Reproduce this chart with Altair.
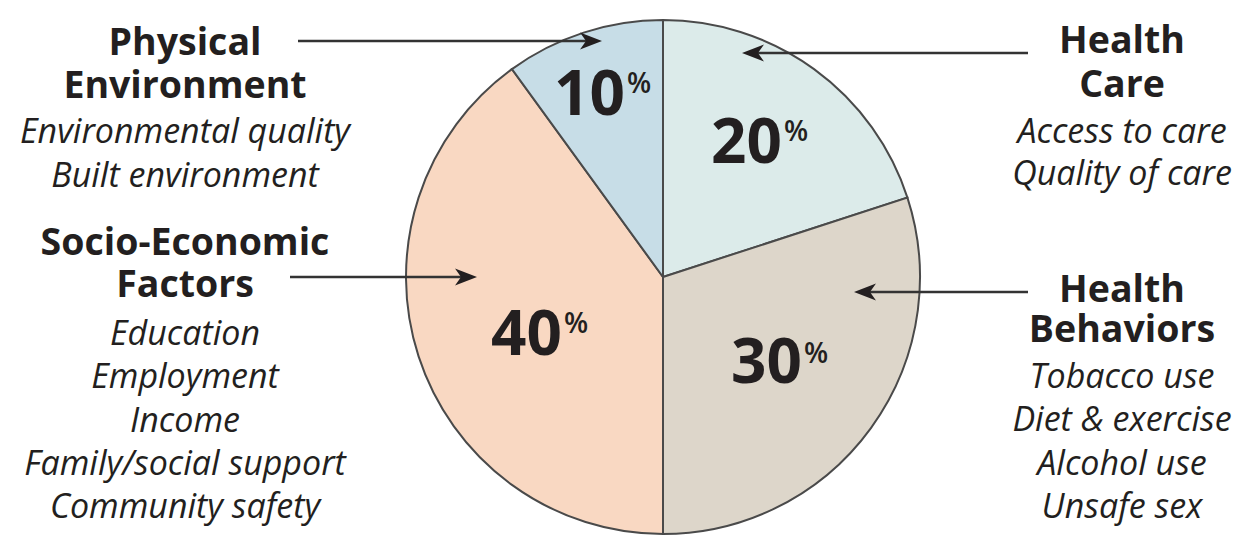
import altair as alt
import pandas as pd

# ---- data -------------------------------------------------------------
factors = ["Health Care", "Health Behaviors", "Socio-Economic Factors", "Physical Environment"]
shares = [20, 30, 40, 10]
slice_colors = ["#dcebea", "#ddd6ca", "#f9d8c2", "#c7dde7"]

title_lines = [
    ["Health", "Care"],
    ["Health", "Behaviors"],
    ["Socio-Economic", "Factors"],
    ["Physical", "Environment"],
]
detail_lines = [
    ["Access to care", "Quality of care"],
    ["Tobacco use", "Diet & exercise", "Alcohol use", "Unsafe sex"],
    ["Education", "Employment", "Income", "Family/social support", "Community safety"],
    ["Environmental quality", "Built environment"],
]

# ---- layout (pixels) ----------------------------------------------------
W, H = 1239, 543
CX, CY, R = 663, 277, 257
INK = "#231f20"
EDGE = "#4a4a4a"

# column centre x, title baseline, title line height, detail baseline, detail line height
blocks = [
    (1122, 53, 44, 143, 42),
    (1122, 302, 40, 388, 43.3),
    (185, 255, 42, 345, 43.25),
    (185, 55, 43, 143, 44),
]
# percent labels: right edge of number, number baseline, percent-sign baseline
pct_pos = [
    (782, 163, 141),
    (802, 383, 363),
    (562, 355, 333),
    (625, 115, 93),
]
# arrows: line start x, arrow tip x, y
arrows = [
    (1028, 742, 53),
    (1028, 854, 292),
    (290, 477, 277),
    (298, 602, 41),
]

pie_df = pd.DataFrame({"factor": factors, "share": shares, "order": range(len(factors))})

pie = (
    alt.Chart(pie_df)
    .mark_arc(radius=R, stroke=EDGE, strokeWidth=2)
    .encode(
        theta=alt.Theta("share:Q", stack=True),
        color=alt.Color("factor:N", scale=alt.Scale(domain=factors, range=slice_colors), legend=None),
        order=alt.Order("order:Q"),
        x=alt.value(CX),
        y=alt.value(CY),
    )
)

layers = [pie]

# arrow head: stealth shape pointing right / left
RIGHT_HEAD = "M1,0 L-1,-0.78 L-0.45,0 L-1,0.78 Z"
LEFT_HEAD = "M-1,0 L1,-0.78 L0.45,0 L1,0.78 Z"
HEAD_LEN = 22

for i, f in enumerate(factors):
    one = pd.DataFrame({"factor": [f], "share": [shares[i]]})
    base = alt.Chart(one)

    # number and superscript percent sign
    nx, ny, py = pct_pos[i]
    layers.append(
        base.mark_text(
            font="Open Sans", fontWeight="bold", fontSize=62, color=INK,
            align="right", baseline="alphabetic",
        ).encode(text=alt.Text("share:Q"), x=alt.value(nx), y=alt.value(ny))
    )
    layers.append(
        base.mark_text(
            font="Open Sans", fontWeight=600, fontSize=28, color=INK,
            align="left", baseline="alphabetic", text="%",
        ).encode(x=alt.value(nx + 2), y=alt.value(py))
    )

    # heading and detail text
    cx, ty, tlh, dy, dlh = blocks[i]
    layers.append(
        base.mark_text(
            font="Open Sans", fontWeight="bold", fontSize=37.5, color=INK,
            align="center", baseline="alphabetic", lineHeight=tlh, text=title_lines[i],
        ).encode(x=alt.value(cx), y=alt.value(ty))
    )
    layers.append(
        base.mark_text(
            font="Open Sans", fontStyle="italic", fontSize=34, color=INK,
            align="center", baseline="alphabetic", lineHeight=dlh, text=detail_lines[i],
        ).encode(x=alt.value(cx), y=alt.value(dy))
    )

    # pointer line and head
    x0, tip, ay = arrows[i]
    pointing_right = tip > x0
    head_cx = tip - HEAD_LEN / 2 if pointing_right else tip + HEAD_LEN / 2
    layers.append(
        base.mark_rule(stroke="#333333", strokeWidth=2.5).encode(
            x=alt.value(x0), x2=alt.value(head_cx), y=alt.value(ay)
        )
    )
    layers.append(
        base.mark_point(
            shape=RIGHT_HEAD if pointing_right else LEFT_HEAD,
            filled=True, color=INK, opacity=1, size=HEAD_LEN * HEAD_LEN,
        ).encode(x=alt.value(head_cx), y=alt.value(ay))
    )

chart = (
    alt.layer(*layers)
    .properties(width=W, height=H, autosize=alt.AutoSizeParams(type="none"), padding=0, background="white")
    .configure_view(stroke=None)
)

chart.save("out.html", embed_options={"renderer": "svg", "actions": False})
